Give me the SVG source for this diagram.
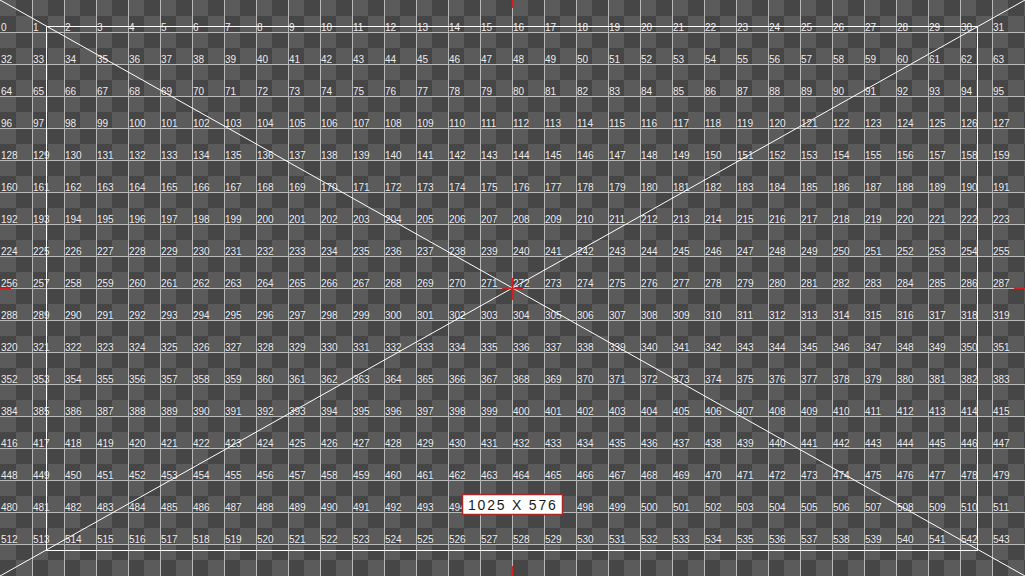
<svg xmlns="http://www.w3.org/2000/svg" width="1025" height="576" viewBox="0 0 1025 576">
<style>
.g{stroke:#b9b9b9;stroke-width:1;fill:none}
.w{stroke:#ffffff;stroke-width:1;fill:none}
.r{stroke:#d42020;stroke-width:1.6;fill:none}
.n text{font-family:"Liberation Sans",Arial,sans-serif;font-size:10px;fill:#ececec}
</style>
<defs>
<pattern id="chk" width="32" height="32" patternUnits="userSpaceOnUse">
<rect width="32" height="32" fill="#5b5b5b"/>
<rect x="16" y="0" width="16" height="16" fill="#464646"/>
<rect x="0" y="16" width="16" height="16" fill="#464646"/>
</pattern>
</defs>
<rect id="background" width="1025" height="576" fill="url(#chk)"/>
<g id="grid" class="g">
<path d="M32.5 0V576M64.5 0V576M96.5 0V576M128.5 0V576M160.5 0V576M192.5 0V576M224.5 0V576M256.5 0V576M288.5 0V576M320.5 0V576M352.5 0V576M384.5 0V576M416.5 0V576M448.5 0V576M480.5 0V576M512.5 0V576M544.5 0V576M576.5 0V576M608.5 0V576M640.5 0V576M672.5 0V576M704.5 0V576M736.5 0V576M768.5 0V576M800.5 0V576M832.5 0V576M864.5 0V576M896.5 0V576M928.5 0V576M960.5 0V576M992.5 0V576"/>
<path d="M0 32.5H1025M0 64.5H1025M0 96.5H1025M0 128.5H1025M0 160.5H1025M0 192.5H1025M0 224.5H1025M0 256.5H1025M0 288.5H1025M0 320.5H1025M0 352.5H1025M0 384.5H1025M0 416.5H1025M0 448.5H1025M0 480.5H1025M0 512.5H1025M0 544.5H1025"/>
</g>
<g id="numbers" class="n">
<g transform="translate(0,31)"><text x="1">0</text><text x="33">1</text><text x="65">2</text><text x="97">3</text><text x="129">4</text><text x="161">5</text><text x="193">6</text><text x="225">7</text><text x="257">8</text><text x="289">9</text><text x="321">10</text><text x="353">11</text><text x="385">12</text><text x="417">13</text><text x="449">14</text><text x="481">15</text><text x="513">16</text><text x="545">17</text><text x="577">18</text><text x="609">19</text><text x="641">20</text><text x="673">21</text><text x="705">22</text><text x="737">23</text><text x="769">24</text><text x="801">25</text><text x="833">26</text><text x="865">27</text><text x="897">28</text><text x="929">29</text><text x="961">30</text><text x="993">31</text></g>
<g transform="translate(0,63)"><text x="1">32</text><text x="33">33</text><text x="65">34</text><text x="97">35</text><text x="129">36</text><text x="161">37</text><text x="193">38</text><text x="225">39</text><text x="257">40</text><text x="289">41</text><text x="321">42</text><text x="353">43</text><text x="385">44</text><text x="417">45</text><text x="449">46</text><text x="481">47</text><text x="513">48</text><text x="545">49</text><text x="577">50</text><text x="609">51</text><text x="641">52</text><text x="673">53</text><text x="705">54</text><text x="737">55</text><text x="769">56</text><text x="801">57</text><text x="833">58</text><text x="865">59</text><text x="897">60</text><text x="929">61</text><text x="961">62</text><text x="993">63</text></g>
<g transform="translate(0,95)"><text x="1">64</text><text x="33">65</text><text x="65">66</text><text x="97">67</text><text x="129">68</text><text x="161">69</text><text x="193">70</text><text x="225">71</text><text x="257">72</text><text x="289">73</text><text x="321">74</text><text x="353">75</text><text x="385">76</text><text x="417">77</text><text x="449">78</text><text x="481">79</text><text x="513">80</text><text x="545">81</text><text x="577">82</text><text x="609">83</text><text x="641">84</text><text x="673">85</text><text x="705">86</text><text x="737">87</text><text x="769">88</text><text x="801">89</text><text x="833">90</text><text x="865">91</text><text x="897">92</text><text x="929">93</text><text x="961">94</text><text x="993">95</text></g>
<g transform="translate(0,127)"><text x="1">96</text><text x="33">97</text><text x="65">98</text><text x="97">99</text><text x="129">100</text><text x="161">101</text><text x="193">102</text><text x="225">103</text><text x="257">104</text><text x="289">105</text><text x="321">106</text><text x="353">107</text><text x="385">108</text><text x="417">109</text><text x="449">110</text><text x="481">111</text><text x="513">112</text><text x="545">113</text><text x="577">114</text><text x="609">115</text><text x="641">116</text><text x="673">117</text><text x="705">118</text><text x="737">119</text><text x="769">120</text><text x="801">121</text><text x="833">122</text><text x="865">123</text><text x="897">124</text><text x="929">125</text><text x="961">126</text><text x="993">127</text></g>
<g transform="translate(0,159)"><text x="1">128</text><text x="33">129</text><text x="65">130</text><text x="97">131</text><text x="129">132</text><text x="161">133</text><text x="193">134</text><text x="225">135</text><text x="257">136</text><text x="289">137</text><text x="321">138</text><text x="353">139</text><text x="385">140</text><text x="417">141</text><text x="449">142</text><text x="481">143</text><text x="513">144</text><text x="545">145</text><text x="577">146</text><text x="609">147</text><text x="641">148</text><text x="673">149</text><text x="705">150</text><text x="737">151</text><text x="769">152</text><text x="801">153</text><text x="833">154</text><text x="865">155</text><text x="897">156</text><text x="929">157</text><text x="961">158</text><text x="993">159</text></g>
<g transform="translate(0,191)"><text x="1">160</text><text x="33">161</text><text x="65">162</text><text x="97">163</text><text x="129">164</text><text x="161">165</text><text x="193">166</text><text x="225">167</text><text x="257">168</text><text x="289">169</text><text x="321">170</text><text x="353">171</text><text x="385">172</text><text x="417">173</text><text x="449">174</text><text x="481">175</text><text x="513">176</text><text x="545">177</text><text x="577">178</text><text x="609">179</text><text x="641">180</text><text x="673">181</text><text x="705">182</text><text x="737">183</text><text x="769">184</text><text x="801">185</text><text x="833">186</text><text x="865">187</text><text x="897">188</text><text x="929">189</text><text x="961">190</text><text x="993">191</text></g>
<g transform="translate(0,223)"><text x="1">192</text><text x="33">193</text><text x="65">194</text><text x="97">195</text><text x="129">196</text><text x="161">197</text><text x="193">198</text><text x="225">199</text><text x="257">200</text><text x="289">201</text><text x="321">202</text><text x="353">203</text><text x="385">204</text><text x="417">205</text><text x="449">206</text><text x="481">207</text><text x="513">208</text><text x="545">209</text><text x="577">210</text><text x="609">211</text><text x="641">212</text><text x="673">213</text><text x="705">214</text><text x="737">215</text><text x="769">216</text><text x="801">217</text><text x="833">218</text><text x="865">219</text><text x="897">220</text><text x="929">221</text><text x="961">222</text><text x="993">223</text></g>
<g transform="translate(0,255)"><text x="1">224</text><text x="33">225</text><text x="65">226</text><text x="97">227</text><text x="129">228</text><text x="161">229</text><text x="193">230</text><text x="225">231</text><text x="257">232</text><text x="289">233</text><text x="321">234</text><text x="353">235</text><text x="385">236</text><text x="417">237</text><text x="449">238</text><text x="481">239</text><text x="513">240</text><text x="545">241</text><text x="577">242</text><text x="609">243</text><text x="641">244</text><text x="673">245</text><text x="705">246</text><text x="737">247</text><text x="769">248</text><text x="801">249</text><text x="833">250</text><text x="865">251</text><text x="897">252</text><text x="929">253</text><text x="961">254</text><text x="993">255</text></g>
<g transform="translate(0,287)"><text x="1">256</text><text x="33">257</text><text x="65">258</text><text x="97">259</text><text x="129">260</text><text x="161">261</text><text x="193">262</text><text x="225">263</text><text x="257">264</text><text x="289">265</text><text x="321">266</text><text x="353">267</text><text x="385">268</text><text x="417">269</text><text x="449">270</text><text x="481">271</text><text x="513">272</text><text x="545">273</text><text x="577">274</text><text x="609">275</text><text x="641">276</text><text x="673">277</text><text x="705">278</text><text x="737">279</text><text x="769">280</text><text x="801">281</text><text x="833">282</text><text x="865">283</text><text x="897">284</text><text x="929">285</text><text x="961">286</text><text x="993">287</text></g>
<g transform="translate(0,319)"><text x="1">288</text><text x="33">289</text><text x="65">290</text><text x="97">291</text><text x="129">292</text><text x="161">293</text><text x="193">294</text><text x="225">295</text><text x="257">296</text><text x="289">297</text><text x="321">298</text><text x="353">299</text><text x="385">300</text><text x="417">301</text><text x="449">302</text><text x="481">303</text><text x="513">304</text><text x="545">305</text><text x="577">306</text><text x="609">307</text><text x="641">308</text><text x="673">309</text><text x="705">310</text><text x="737">311</text><text x="769">312</text><text x="801">313</text><text x="833">314</text><text x="865">315</text><text x="897">316</text><text x="929">317</text><text x="961">318</text><text x="993">319</text></g>
<g transform="translate(0,351)"><text x="1">320</text><text x="33">321</text><text x="65">322</text><text x="97">323</text><text x="129">324</text><text x="161">325</text><text x="193">326</text><text x="225">327</text><text x="257">328</text><text x="289">329</text><text x="321">330</text><text x="353">331</text><text x="385">332</text><text x="417">333</text><text x="449">334</text><text x="481">335</text><text x="513">336</text><text x="545">337</text><text x="577">338</text><text x="609">339</text><text x="641">340</text><text x="673">341</text><text x="705">342</text><text x="737">343</text><text x="769">344</text><text x="801">345</text><text x="833">346</text><text x="865">347</text><text x="897">348</text><text x="929">349</text><text x="961">350</text><text x="993">351</text></g>
<g transform="translate(0,383)"><text x="1">352</text><text x="33">353</text><text x="65">354</text><text x="97">355</text><text x="129">356</text><text x="161">357</text><text x="193">358</text><text x="225">359</text><text x="257">360</text><text x="289">361</text><text x="321">362</text><text x="353">363</text><text x="385">364</text><text x="417">365</text><text x="449">366</text><text x="481">367</text><text x="513">368</text><text x="545">369</text><text x="577">370</text><text x="609">371</text><text x="641">372</text><text x="673">373</text><text x="705">374</text><text x="737">375</text><text x="769">376</text><text x="801">377</text><text x="833">378</text><text x="865">379</text><text x="897">380</text><text x="929">381</text><text x="961">382</text><text x="993">383</text></g>
<g transform="translate(0,415)"><text x="1">384</text><text x="33">385</text><text x="65">386</text><text x="97">387</text><text x="129">388</text><text x="161">389</text><text x="193">390</text><text x="225">391</text><text x="257">392</text><text x="289">393</text><text x="321">394</text><text x="353">395</text><text x="385">396</text><text x="417">397</text><text x="449">398</text><text x="481">399</text><text x="513">400</text><text x="545">401</text><text x="577">402</text><text x="609">403</text><text x="641">404</text><text x="673">405</text><text x="705">406</text><text x="737">407</text><text x="769">408</text><text x="801">409</text><text x="833">410</text><text x="865">411</text><text x="897">412</text><text x="929">413</text><text x="961">414</text><text x="993">415</text></g>
<g transform="translate(0,447)"><text x="1">416</text><text x="33">417</text><text x="65">418</text><text x="97">419</text><text x="129">420</text><text x="161">421</text><text x="193">422</text><text x="225">423</text><text x="257">424</text><text x="289">425</text><text x="321">426</text><text x="353">427</text><text x="385">428</text><text x="417">429</text><text x="449">430</text><text x="481">431</text><text x="513">432</text><text x="545">433</text><text x="577">434</text><text x="609">435</text><text x="641">436</text><text x="673">437</text><text x="705">438</text><text x="737">439</text><text x="769">440</text><text x="801">441</text><text x="833">442</text><text x="865">443</text><text x="897">444</text><text x="929">445</text><text x="961">446</text><text x="993">447</text></g>
<g transform="translate(0,479)"><text x="1">448</text><text x="33">449</text><text x="65">450</text><text x="97">451</text><text x="129">452</text><text x="161">453</text><text x="193">454</text><text x="225">455</text><text x="257">456</text><text x="289">457</text><text x="321">458</text><text x="353">459</text><text x="385">460</text><text x="417">461</text><text x="449">462</text><text x="481">463</text><text x="513">464</text><text x="545">465</text><text x="577">466</text><text x="609">467</text><text x="641">468</text><text x="673">469</text><text x="705">470</text><text x="737">471</text><text x="769">472</text><text x="801">473</text><text x="833">474</text><text x="865">475</text><text x="897">476</text><text x="929">477</text><text x="961">478</text><text x="993">479</text></g>
<g transform="translate(0,511)"><text x="1">480</text><text x="33">481</text><text x="65">482</text><text x="97">483</text><text x="129">484</text><text x="161">485</text><text x="193">486</text><text x="225">487</text><text x="257">488</text><text x="289">489</text><text x="321">490</text><text x="353">491</text><text x="385">492</text><text x="417">493</text><text x="449">494</text><text x="577">498</text><text x="609">499</text><text x="641">500</text><text x="673">501</text><text x="705">502</text><text x="737">503</text><text x="769">504</text><text x="801">505</text><text x="833">506</text><text x="865">507</text><text x="897">508</text><text x="929">509</text><text x="961">510</text><text x="993">511</text></g>
<g transform="translate(0,543)"><text x="1">512</text><text x="33">513</text><text x="65">514</text><text x="97">515</text><text x="129">516</text><text x="161">517</text><text x="193">518</text><text x="225">519</text><text x="257">520</text><text x="289">521</text><text x="321">522</text><text x="353">523</text><text x="385">524</text><text x="417">525</text><text x="449">526</text><text x="481">527</text><text x="513">528</text><text x="545">529</text><text x="577">530</text><text x="609">531</text><text x="641">532</text><text x="673">533</text><text x="705">534</text><text x="737">535</text><text x="769">536</text><text x="801">537</text><text x="833">538</text><text x="865">539</text><text x="897">540</text><text x="929">541</text><text x="961">542</text><text x="993">543</text></g>
</g>
<g id="guides" class="w">
<line x1="0" y1="0" x2="1025" y2="576"/>
<line x1="1025" y1="0" x2="0" y2="576"/>
<rect x="46.5" y="26.5" width="931" height="524"/>
</g>
<g id="marks" class="r">
<path d="M502 288.5H523M512.5 278V300"/>
<path d="M512.5 0V8M512.5 566V576M0 288.5H11M1014 288.5H1025"/>
</g>
<g id="size-label">
<rect x="462.5" y="494.5" width="100" height="20" fill="#ffffff" stroke="#a82828" stroke-width="1.5"/>
<text x="468" y="509.5" font-family="Liberation Sans, Arial, sans-serif" font-size="14" letter-spacing="1.8" fill="#1a1a1a">1025 X 576</text>
</g>
</svg>
